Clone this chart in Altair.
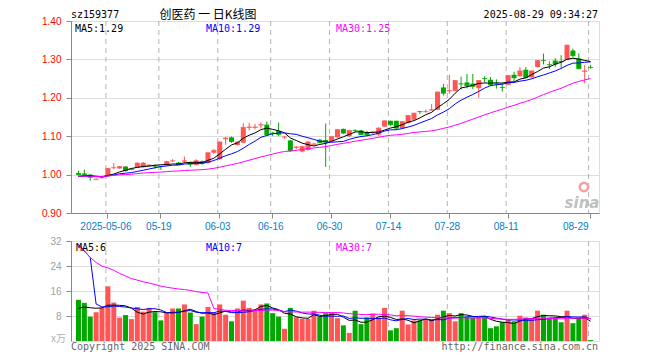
import altair as alt
import pandas as pd

# ---- daily K data (88 trading days) ----
opens = [1.004, 1.003, 1.000, 0.987, 0.991, 0.998, 1.017, 1.016, 1.021, 1.012,
         1.018, 1.019, 1.022, 1.024, 1.022, 1.024, 1.035, 1.031, 1.034, 1.032,
         1.025, 1.035, 1.030, 1.057, 1.040, 1.092, 1.097, 1.077, 1.083, 1.122,
         1.122, 1.128, 1.130, 1.109, 1.114, 1.097, 1.089, 1.070, 1.060, 1.064,
         1.078, 1.091, 1.090, 1.087, 1.097, 1.119, 1.100, 1.116, 1.115, 1.111,
         1.110, 1.104, 1.125, 1.140, 1.140, 1.121, 1.134, 1.143, 1.165, 1.163,
         1.167, 1.169, 1.227, 1.217, 1.218, 1.237, 1.240, 1.237, 1.225, 1.251,
         1.247, 1.237, 1.228, 1.234, 1.260, 1.256, 1.273, 1.253, 1.280, 1.298,
         1.287, 1.297, 1.296, 1.299, 1.323, 1.302, 1.268, 1.280]
highs = [1.010, 1.013, 1.001, 0.990, 0.994, 1.017, 1.030, 1.022, 1.022, 1.016,
         1.032, 1.033, 1.026, 1.026, 1.023, 1.036, 1.040, 1.033, 1.047, 1.034,
         1.040, 1.037, 1.058, 1.066, 1.086, 1.098, 1.099, 1.086, 1.134, 1.135,
         1.132, 1.136, 1.138, 1.111, 1.135, 1.101, 1.090, 1.074, 1.075, 1.087,
         1.082, 1.093, 1.133, 1.101, 1.118, 1.120, 1.116, 1.118, 1.117, 1.114,
         1.113, 1.123, 1.141, 1.141, 1.141, 1.139, 1.155, 1.161, 1.166, 1.170,
         1.184, 1.216, 1.236, 1.260, 1.246, 1.255, 1.262, 1.262, 1.246, 1.256,
         1.254, 1.248, 1.239, 1.259, 1.268, 1.280, 1.280, 1.271, 1.298, 1.315,
         1.295, 1.303, 1.311, 1.338, 1.328, 1.316, 1.286, 1.286]
lows = [0.998, 0.997, 0.984, 0.985, 0.990, 0.997, 1.014, 1.015, 1.008, 1.011,
        1.017, 1.018, 1.021, 1.015, 1.012, 1.023, 1.033, 1.025, 1.030, 1.020,
        1.024, 1.026, 1.028, 1.054, 1.038, 1.078, 1.083, 1.076, 1.082, 1.115,
        1.118, 1.120, 1.100, 1.100, 1.100, 1.093, 1.060, 1.066, 1.058, 1.062,
        1.075, 1.082, 1.020, 1.085, 1.096, 1.106, 1.097, 1.111, 1.103, 1.100,
        1.105, 1.100, 1.124, 1.127, 1.117, 1.120, 1.133, 1.142, 1.158, 1.161,
        1.166, 1.168, 1.206, 1.210, 1.217, 1.222, 1.225, 1.222, 1.200, 1.240,
        1.230, 1.224, 1.216, 1.233, 1.242, 1.255, 1.250, 1.252, 1.279, 1.287,
        1.275, 1.280, 1.278, 1.298, 1.305, 1.274, 1.238, 1.276]
closes = [1.000, 1.000, 0.993, 0.988, 0.992, 1.016, 1.018, 1.021, 1.010, 1.015,
          1.030, 1.030, 1.025, 1.022, 1.021, 1.034, 1.036, 1.026, 1.036, 1.027,
          1.036, 1.030, 1.057, 1.063, 1.085, 1.095, 1.086, 1.085, 1.123, 1.124,
          1.124, 1.130, 1.104, 1.107, 1.105, 1.098, 1.062, 1.072, 1.073, 1.085,
          1.080, 1.083, 1.085, 1.099, 1.117, 1.108, 1.115, 1.115, 1.104, 1.104,
          1.111, 1.121, 1.140, 1.130, 1.121, 1.138, 1.154, 1.160, 1.164, 1.164,
          1.169, 1.215, 1.212, 1.219, 1.245, 1.236, 1.232, 1.230, 1.245, 1.250,
          1.234, 1.236, 1.227, 1.258, 1.252, 1.270, 1.253, 1.270, 1.297, 1.297,
          1.286, 1.288, 1.294, 1.337, 1.310, 1.276, 1.270, 1.279]
volumes = [13.2, 12.2, 7.8, 9.2, 10.6, 17.5, 12.3, 7.5, 8.3, 7.0,
           10.9, 9.4, 10.6, 9.2, 6.6, 9.2, 10.4, 10.4, 11.7, 9.1,
           5.4, 7.8, 10.9, 9.1, 11.7, 8.4, 6.3, 10.4, 12.9, 10.6,
           9.7, 11.7, 12.0, 8.9, 7.8, 3.9, 10.6, 7.6, 7.1, 7.1,
           9.7, 7.8, 8.9, 9.1, 7.3, 5.0, 2.6, 9.7, 5.4, 7.5,
           8.8, 7.5, 10.6, 3.4, 4.1, 9.7, 5.3, 6.6, 6.6, 7.1,
           6.8, 8.4, 9.7, 8.9, 6.3, 8.9, 7.8, 7.5, 7.5, 7.8,
           4.1, 4.7, 6.0, 6.8, 6.3, 8.1, 7.5, 7.3, 9.7, 8.4,
           7.5, 7.3, 6.0, 9.7, 5.7, 7.5, 8.4, 0.3]

# days before the visible window (listing period), estimated from the MA lines
pre_close = [1.000, 0.996, 0.993, 0.990, 0.992, 0.995, 0.998]
pre_vol = [158, 20, 17, 10, 9, 10, 10]

tick_idx = [5, 14, 24, 33, 43, 53, 63, 73, 87]
tick_lab = ["2025-05-06", "05-19", "06-03", "06-16", "06-30",
            "07-14", "07-28", "08-11", "08-29"]

code = "sz159377"
title = "创医药 一 日K线图"
stamp = "2025-08-29 09:34:27"

# ---- derived table ----
n = len(closes)
k = len(pre_close)
allc = pd.Series(pre_close + closes)
allv = pd.Series(pre_vol + volumes)


def ma(s, w):
    return s.rolling(w, min_periods=1).mean().iloc[k:].round(5).tolist()


df = pd.DataFrame({
    "i": list(range(n)), "open": opens, "high": highs, "low": lows,
    "close": closes, "vol": volumes,
    "ma5": ma(allc, 5), "ma10": ma(allc, 10), "ma30": ma(allc, 30),
    "vma5": ma(allv, 5), "vma10": ma(allv, 10), "vma30": ma(allv, 30),
})
df["dir"] = ["up" if c >= o else "down" for o, c in zip(opens, closes)]
grid_df = pd.DataFrame({"gi": tick_idx})

RED, GREEN = "#ff5555", "#00a800"
MONO = "DejaVu Sans Mono"
W, HP, HV = 528, 192, 100

xs = alt.Scale(domain=[-1 / 3, n - 1 / 3], nice=False, zero=False)
lab_js = "[" + ",".join("'%s'" % t for t in tick_lab) + "]"
idx_js = "[" + ",".join(str(t) for t in tick_idx) + "]"
xaxis_top = alt.Axis(
    values=tick_idx, labelExpr=f"{lab_js}[indexof({idx_js}, datum.value)]",
    labelColor="#0080cc", labelPadding=3, labelOffset=-2, grid=False,
    labelOverlap=False, labelFlush=False, title=None,
    labelAlign={"condition": {"test": f"datum.value == {tick_idx[-1]}", "value": "right"},
                "value": "center"},
)


def XT(f):
    return alt.X(f"{f}:Q", scale=xs, axis=xaxis_top)


def XB(f):
    return alt.X(f"{f}:Q", scale=xs, axis=None)


ys = alt.Scale(domain=[0.9, 1.4], nice=False, zero=False)
yaxis_top = alt.Axis(values=[0.9, 1.0, 1.1, 1.2, 1.3, 1.4], format=".2f",
                     labelColor="#ff0000", labelPadding=5, grid=True, title=None)


def YP(f):
    return alt.Y(f"{f}:Q", scale=ys, axis=yaxis_top)


yv = alt.Scale(domain=[0, 32], nice=False)
yaxis_vol = alt.Axis(values=[8, 16, 24, 32], labelColor="#a0a0a0", labelPadding=5,
                     grid=True, title=None)


def YV(f):
    return alt.Y(f"{f}:Q", scale=yv, axis=yaxis_vol)


col = alt.Color("dir:N", scale=alt.Scale(domain=["up", "down"], range=[RED, GREEN]), legend=None)


def txt(s, x, y, color, align="left", font=MONO, size=10, **kw):
    return alt.Chart(pd.DataFrame({"t": [s]})).mark_text(
        x=x, y=y, align=align, baseline="middle", color=color, font=font,
        fontSize=size, **kw).encode(text="t:N")


base = alt.Chart(df)

# invisible anchor fixing the top-left corner of the whole picture
anchor = alt.Chart(pd.DataFrame({"t": [0]})).mark_rule(strokeWidth=0, strokeOpacity=0).encode(
    x=alt.value(-62), x2=alt.value(-62), y=alt.value(-12), y2=alt.value(-12))

# ---- price panel ----
vgrid_t = alt.Chart(grid_df).mark_rule(color="#b4b4b4", strokeDash=[5, 4], xOffset=-1.5).encode(x=XT("gi"))
wick = base.mark_rule(strokeWidth=1, xOffset=0.5).encode(x=XT("i"), y=YP("low"), y2="high", color=col)
body = base.mark_bar(size=5, xOffset=0.5).encode(x=XT("i"), y=YP("open"), y2="close", color=col)
cross = base.mark_tick(orient="horizontal", size=5, thickness=1, xOffset=0.5).encode(
    x=XT("i"), y=YP("close"), color=col)
l5 = base.mark_line(color="black", strokeWidth=1, xOffset=0.5).encode(x=XT("i"), y=YP("ma5"))
l10 = base.mark_line(color="#0000ff", strokeWidth=1, xOffset=0.5).encode(x=XT("i"), y=YP("ma10"))
l30 = base.mark_line(color="#ff00ff", strokeWidth=1, xOffset=0.5).encode(x=XT("i"), y=YP("ma30"))

last = df.iloc[-1]
top = alt.layer(
    anchor, vgrid_t, wick, body, cross, l5, l10, l30,
    txt(code, 0, -6, "black"),
    txt(title, 137, -6.5, "black", align="center", font="Noto Sans CJK SC", size=12),
    txt(stamp, W - 1, -6, "black", align="right"),
    txt(f"MA5:{last['ma5']:.2f}", 4, 7.5, "black"),
    txt(f"MA10:{last['ma10']:.2f}", 135, 7.5, "#0000ff"),
    txt(f"MA30:{last['ma30']:.2f}", 265, 7.5, "#ff00ff"),
    txt("sina", 511, 182, "#c0c0c0", align="center", font="DejaVu Sans", size=15,
        fontStyle="italic", fontWeight="bold"),
    alt.Chart(pd.DataFrame({"t": [1]})).mark_point(
        x=513, y=166, shape="circle", filled=False, color="#f2a0a0", size=70,
        strokeWidth=2.5).encode(opacity=alt.value(1)),
).properties(width=W, height=HP)

# ---- volume panel ----
vgrid_b = alt.Chart(grid_df).mark_rule(color="#b4b4b4", strokeDash=[5, 4], xOffset=-1.5).encode(x=XB("gi"))
vbar = base.mark_bar(size=5, xOffset=0.5, orient="vertical").encode(x=XB("i"), y=YV("vol"), color=col)
v5 = base.mark_line(color="black", strokeWidth=1, xOffset=0.5).encode(x=XB("i"), y=YV("vma5"))
v10 = base.mark_line(color="#0000ff", strokeWidth=1, xOffset=0.5).encode(x=XB("i"), y=YV("vma10"))
v30 = base.mark_line(color="#ff00ff", strokeWidth=1, xOffset=0.5).encode(x=XB("i"), y=YV("vma30"))

bottom = alt.layer(
    vgrid_b, vbar, v5, v10, v30,
    txt(f"MA5:{last['vma5']:.0f}", 5, 7, "black"),
    txt(f"MA10:{last['vma10']:.0f}", 135, 7, "#0000ff"),
    txt(f"MA30:{last['vma30']:.0f}", 265, 7, "#ff00ff"),
    txt("x万", -5, HV - 2, "#b0b0b0", align="right", font="Noto Sans CJK SC", size=10),
    txt("Copyright 2025 SINA.COM", 0, HV + 6, "#666666"),
    txt("http://finance.sina.com.cn", W - 1, HV + 6, "#666666", align="right"),
).properties(width=W, height=HV)

chart = alt.vconcat(top, bottom, spacing=28, bounds="flush").properties(
    padding=0,
).configure_view(
    stroke="#a0a0a0", strokeWidth=1
).configure_axis(
    domain=False, ticks=False, labelFont=MONO, labelFontSize=10,
    gridColor="#b0b0b0", gridDash=[1, 2]
).configure(background="white")

chart.save("out.html", embed_options={"renderer": "svg", "actions": False})
